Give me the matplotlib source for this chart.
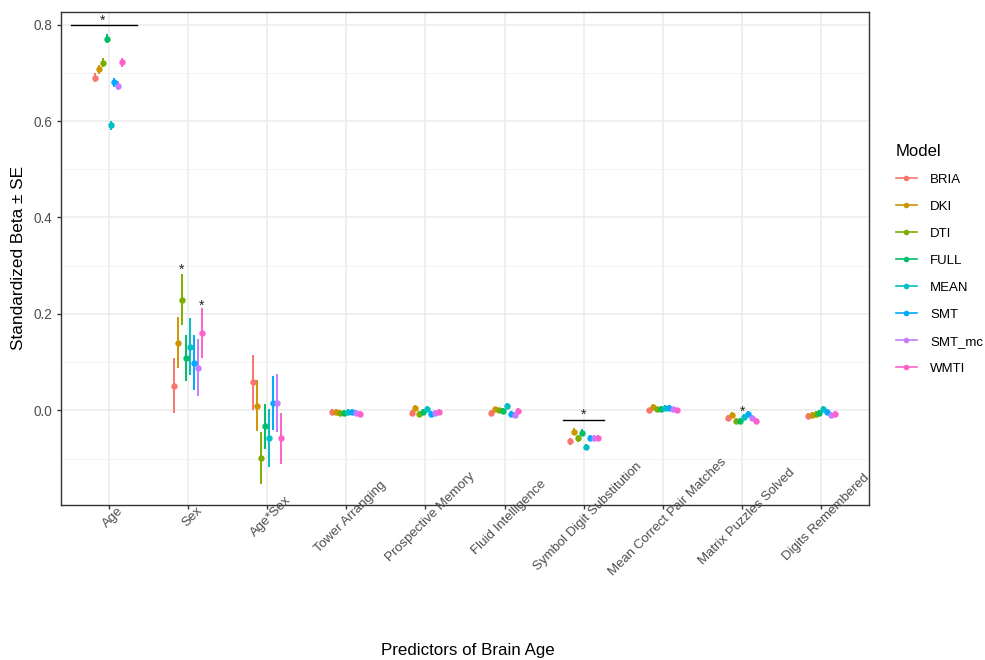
import numpy as np
import matplotlib
matplotlib.use("Agg")
import matplotlib.pyplot as plt
from matplotlib.lines import Line2D
from matplotlib.transforms import ScaledTranslation

plt.rcParams['font.family'] = ['Liberation Sans', 'DejaVu Sans']

predictors = ["Age", "Sex", "Age*Sex", "Tower Arranging", "Prospective Memory",
              "Fluid Intelligence", "Symbol Digit Substitution",
              "Mean Correct Pair Matches", "Matrix Puzzles Solved", "Digits Remembered"]

models = ["BRIA", "DKI", "DTI", "FULL", "MEAN", "SMT", "SMT_mc", "WMTI"]
colors = ["#F8766D", "#CD9600", "#7CAE00", "#00BE67", "#00BFC4", "#00A9FF", "#C77CFF", "#FF61CC"]

# standardized betas, one list per model (order of predictors)
beta_bria = [0.690, 0.051, 0.058, -0.004, -0.006, -0.005, -0.064, 0.000, -0.016, -0.012]
beta_dki = [0.707, 0.140, 0.010, -0.004, 0.005, 0.002, -0.044, 0.007, -0.010, -0.010]
beta_dti = [0.721, 0.230, -0.099, -0.006, -0.008, 0.000, -0.058, 0.002, -0.021, -0.008]
beta_full = [0.771, 0.109, -0.033, -0.005, -0.003, -0.001, -0.046, 0.004, -0.021, -0.006]
beta_mean = [0.591, 0.132, -0.058, -0.004, 0.003, 0.009, -0.076, 0.006, -0.014, 0.004]
beta_smt = [0.680, 0.099, 0.015, -0.004, -0.007, -0.007, -0.057, 0.006, -0.008, -0.004]
beta_smt_mc = [0.673, 0.089, 0.016, -0.006, -0.005, -0.010, -0.057, 0.002, -0.015, -0.010]
beta_wmti = [0.722, 0.160, -0.058, -0.007, -0.004, -0.001, -0.057, 0.000, -0.021, -0.008]

# standard errors
se_bria = [0.009, 0.057, 0.057, 0.006, 0.006, 0.006, 0.007, 0.006, 0.006, 0.006]
se_dki = [0.009, 0.053, 0.053, 0.006, 0.006, 0.006, 0.007, 0.006, 0.006, 0.006]
se_dti = [0.009, 0.053, 0.054, 0.006, 0.006, 0.006, 0.007, 0.006, 0.006, 0.006]
se_full = [0.009, 0.047, 0.046, 0.006, 0.006, 0.006, 0.007, 0.006, 0.006, 0.006]
se_mean = [0.009, 0.059, 0.060, 0.006, 0.006, 0.006, 0.007, 0.006, 0.006, 0.006]
se_smt = [0.009, 0.057, 0.056, 0.006, 0.006, 0.006, 0.007, 0.006, 0.006, 0.006]
se_smt_mc = [0.009, 0.060, 0.060, 0.006, 0.006, 0.006, 0.007, 0.006, 0.006, 0.006]
se_wmti = [0.009, 0.052, 0.053, 0.006, 0.006, 0.006, 0.007, 0.006, 0.006, 0.006]

betas = [beta_bria, beta_dki, beta_dti, beta_full, beta_mean, beta_smt, beta_smt_mc, beta_wmti]
ses = [se_bria, se_dki, se_dti, se_full, se_mean, se_smt, se_smt_mc, se_wmti]

# significance brackets: (predictor, left, right, y) and stars: (predictor, x offset, y)
brackets = [(0, -0.47, 0.36, 0.800), (6, -0.26, 0.26, -0.019)]
stars = [(0, -0.08, 0.807), (1, -0.075, 0.291), (1, 0.175, 0.218), (6, 0.0, -0.010), (8, 0.0, -0.003)]

dodge = 0.05

fig = plt.figure(figsize=(9.85, 6.6), dpi=100)
ax = fig.add_axes([61 / 985, 1 - 505 / 660, 808 / 985, 493 / 660])

x = np.arange(len(predictors))
for i, (m, c) in enumerate(zip(models, colors)):
    xi = x + (i - 3.5) * dodge
    ax.errorbar(xi, betas[i], yerr=ses[i], fmt='o', color=c, ms=3.6,
                elinewidth=1.4, capsize=0, zorder=3)

for p, l, r, yv in brackets:
    ax.plot([p + l, p + r], [yv, yv], color='black', lw=1, zorder=4)
for p, dx, yv in stars:
    ax.text(p + dx, yv, "*", ha='center', va='center',
            fontsize=10, color='#222222', zorder=5)

ax.set_xlim(-0.6, 9.6)
ax.set_ylim(-0.196, 0.826)
ax.set_yticks([0.0, 0.2, 0.4, 0.6, 0.8])
ax.set_yticklabels(["0.0", "0.2", "0.4", "0.6", "0.8"])
ax.set_yticks([-0.1, 0.1, 0.3, 0.5, 0.7], minor=True)
ax.set_xticks(x)
ax.set_xticklabels([])

# rotated category labels, centred a little right of / below each tick
lab_off = ScaledTranslation(4.5 / 100, -12 / 100, fig.dpi_scale_trans)
for xi, name in zip(x, predictors):
    ax.text(xi, 0, name, rotation=45, ha='center', va='center', rotation_mode='anchor',
            transform=ax.get_xaxis_transform() + lab_off, fontsize=9.5, color='#4D4D4D',
            clip_on=False)

ax.grid(True, which='major', color='#EBEBEB', lw=1.1, zorder=0)
ax.grid(True, which='minor', axis='y', color='#F2F2F2', lw=0.6, zorder=0)
ax.set_axisbelow(True)
for s in ax.spines.values():
    s.set_color('#333333')
    s.set_linewidth(1.0)
ax.tick_params(axis='both', which='major', length=3, width=1, color='#333333',
               labelcolor='#4D4D4D', labelsize=9.8)
ax.tick_params(axis='both', which='minor', length=0)

fig.text(468 / 985, 1 - 651 / 660, "Predictors of Brain Age", ha='center', va='center', fontsize=12.2)
fig.text(19 / 985, 1 - 258 / 660, "Standardized Beta \u00b1 SE", ha='center', va='center',
         rotation=90, fontsize=12.4)

handles = [Line2D([0], [0], color=c, lw=1.2, marker='o', ms=3) for c in colors]
leg = fig.legend(handles, models, loc='upper left', bbox_to_anchor=(884 / 985, 1 - 132 / 660),
                 frameon=False, title="Model", title_fontsize=12, fontsize=9.5,
                 handlelength=1.6, labelspacing=1.12, handletextpad=1.0, alignment='left')

fig.savefig("out.png", dpi=100)
